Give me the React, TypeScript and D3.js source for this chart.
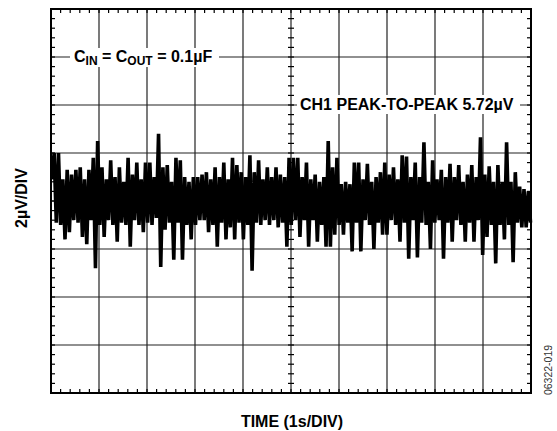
import React from "react";
import * as d3 from "d3";

// Noise trace samples (µV), evenly spaced over 10 s (10 divisions × 1 s/DIV)
const noiseValues: number[] = [
  0.9, 2.0, -0.9, 2.0, -1.0, 0.9, -1.6, 1.3, -1.3, 1.1, -0.8, 1.3, -0.9, 1.4, -1.5, 0.9,
  -1.8, 1.3, -0.8, 1.8, -2.8, 2.5, -1.0, 1.4, -1.5, 0.9, -0.8, 1.7, -1.0, 1.0, -1.7, 1.4,
  -0.9, 0.8, -1.0, 1.8, -1.9, 1.1, -0.8, 1.6, -1.0, 0.9, -1.3, 1.6, -0.9, 1.6, -1.0, 1.0,
  -0.7, 2.8, -2.75, 1.4, -1.2, 1.5, -0.9, 0.8, -2.45, 1.8, -0.9, 1.7, -2.45, 1.0, -1.0, 0.8,
  -1.6, 1.0, -1.0, 1.0, -0.8, 1.1, -0.8, 1.2, -1.3, 0.9, -1.0, 1.4, -1.9, 1.0, -0.9, 1.6,
  -1.6, 0.9, -1.1, 1.8, -1.6, 1.5, -0.9, 1.2, -1.6, 1.0, -1.0, 1.9, -2.9, 1.2, -0.9, 1.7,
  -1.0, 0.9, -0.8, 1.4, -1.0, 1.0, -0.8, 1.4, -1.1, 1.1, -0.9, 1.0, -1.9, 1.8, -1.0, 1.8,
  -0.8, 1.8, -1.5, 1.0, -0.8, 1.6, -1.9, 0.9, -0.8, 1.1, -1.7, 0.8, -1.0, 1.0, -1.9, 2.5,
  -1.9, 1.4, -1.4, 1.8, -1.0, 0.7, -1.4, 0.8, -0.9, 0.7, -2.1, 1.6, -0.9, 1.6, -2.1, 0.9,
  -0.8, 1.55, -1.0, 0.8, -2.0, 1.0, -0.9, 1.2, -1.4, 1.6, -1.4, 1.1, -0.8, 1.4, -1.0, 0.9,
  -1.7, 1.9, -0.9, 1.85, -2.4, 1.0, -0.8, 1.6, -2.35, 1.0, -0.9, 2.45, -1.0, 0.8, -2.0, 1.7,
  -0.9, 0.9, -0.8, 1.3, -2.4, 1.0, -0.9, 1.55, -1.7, 1.0, -0.8, 1.5, -1.0, 0.8, -1.7, 1.1,
  -0.9, 1.5, -1.7, 1.0, -0.8, 2.65, -2.25, 1.1, -1.5, 1.45, -1.0, 0.8, -2.6, 1.5, -1.0, 0.8,
  -1.6, 2.45, -1.0, 0.8, -2.55, 1.2, -0.9, 0.6, -1.1, 0.5, -1.1, 0.4, -0.9,
];

const timeDivisions = 10; // 1 s/DIV
const voltDivisions = 8; // 2 µV/DIV
const voltsPerDiv = 2;
const xLabel = "TIME (1s/DIV)";
const yLabel = "2µV/DIV";
const peakLabel = "CH1 PEAK-TO-PEAK 5.72µV";
const figureId = "06322-019";

const W = 557;
const H = 431;
const L = 51;
const R = 531;
const T = 9;
const B = 393;

export default function App() {
  const x = d3.scaleLinear().domain([0, timeDivisions]).range([L, R]);
  const halfV = (voltDivisions / 2) * voltsPerDiv;
  const y = d3.scaleLinear().domain([-halfV, halfV]).range([B, T]);

  const n = noiseValues.length;
  const tStep = (timeDivisions - 0.03) / (n - 1);
  const line = d3
    .line<number>()
    .x((_, i) => x(0.02 + i * tStep))
    .y((d) => y(d));

  const vMajor = d3.range(0, timeDivisions + 1);
  const hMajor = d3.range(-halfV, halfV + 0.001, voltsPerDiv);
  const xMinor = d3.range(0, timeDivisions * 5 + 1).map((k) => k / 5);
  const yMinor = d3.range(0, voltDivisions * 5 + 1).map((k) => -halfV + (k * voltsPerDiv) / 5);

  const font = "Arial, 'Liberation Sans', Helvetica, sans-serif";
  const grid = "#222";
  const tk = 4;
  const xc = x(timeDivisions / 2);
  const yc = y(0);
  const fs = 16;

  return (
    <svg width={W} height={H} style={{ position: "absolute", left: 0, top: 0 }}>
      <rect x={0} y={0} width={W} height={H} fill="#fff" />
      {/* major grid */}
      {vMajor.map((v) => (
        <line key={"v" + v} x1={x(v)} x2={x(v)} y1={T} y2={B} stroke={grid} strokeWidth={1.2} />
      ))}
      {hMajor.map((v) => (
        <line key={"h" + v} x1={L} x2={R} y1={y(v)} y2={y(v)} stroke={grid} strokeWidth={1.2} />
      ))}
      {/* minor ticks */}
      {xMinor.map((v, i) => (
        <g key={"xm" + i}>
          <line x1={x(v)} x2={x(v)} y1={T} y2={T + tk} stroke="#000" strokeWidth={1.2} />
          <line x1={x(v)} x2={x(v)} y1={B} y2={B - tk} stroke="#000" strokeWidth={1.2} />
          <line x1={x(v)} x2={x(v)} y1={yc - 3} y2={yc + 3} stroke="#000" strokeWidth={1.2} />
        </g>
      ))}
      {yMinor.map((v, i) => (
        <g key={"ym" + i}>
          <line x1={L} x2={L + tk} y1={y(v)} y2={y(v)} stroke="#000" strokeWidth={1.2} />
          <line x1={R} x2={R - tk} y1={y(v)} y2={y(v)} stroke="#000" strokeWidth={1.2} />
          <line x1={xc - 3} x2={xc + 3} y1={y(v)} y2={y(v)} stroke="#000" strokeWidth={1.2} />
        </g>
      ))}
      {/* border */}
      <rect x={L} y={T} width={R - L} height={B - T} fill="none" stroke="#000" strokeWidth={2} />

      {/* trace */}
      <path
        d={line(noiseValues) || ""}
        fill="none"
        stroke="#000"
        strokeWidth={3.6}
        strokeLinejoin="bevel"
      />

      {/* annotations */}
      <rect x={70} y={48} width={149} height={19} fill="#fff" />
      <text x={74} y={62} fontFamily={font} fontWeight="bold" fontSize={fs} fill="#000">
        C<tspan fontSize={12} dy={3}>IN</tspan>
        <tspan dy={-3}> = C</tspan>
        <tspan fontSize={12} dy={3}>OUT</tspan>
        <tspan dy={-3}> = 0.1µF</tspan>
      </text>

      <rect x={297} y={95} width={223} height={19} fill="#fff" />
      <text x={300} y={110} fontFamily={font} fontWeight="bold" fontSize={fs} fill="#000">
        {peakLabel}
      </text>

      <text
        transform={`translate(26.5,${(T + B) / 2 - 3}) rotate(-90)`}
        textAnchor="middle"
        fontFamily={font}
        fontWeight="bold"
        fontSize={fs}
        fill="#000"
      >
        {yLabel}
      </text>
      <text x={(L + R) / 2 + 1} y={427} textAnchor="middle" fontFamily={font} fontWeight="bold" fontSize={fs} fill="#000">
        {xLabel}
      </text>
      <text
        transform={`translate(552,370) rotate(-90)`}
        textAnchor="middle"
        fontFamily={font}
        fontSize={10.5}
        fill="#333"
      >
        {figureId}
      </text>
    </svg>
  );
}
